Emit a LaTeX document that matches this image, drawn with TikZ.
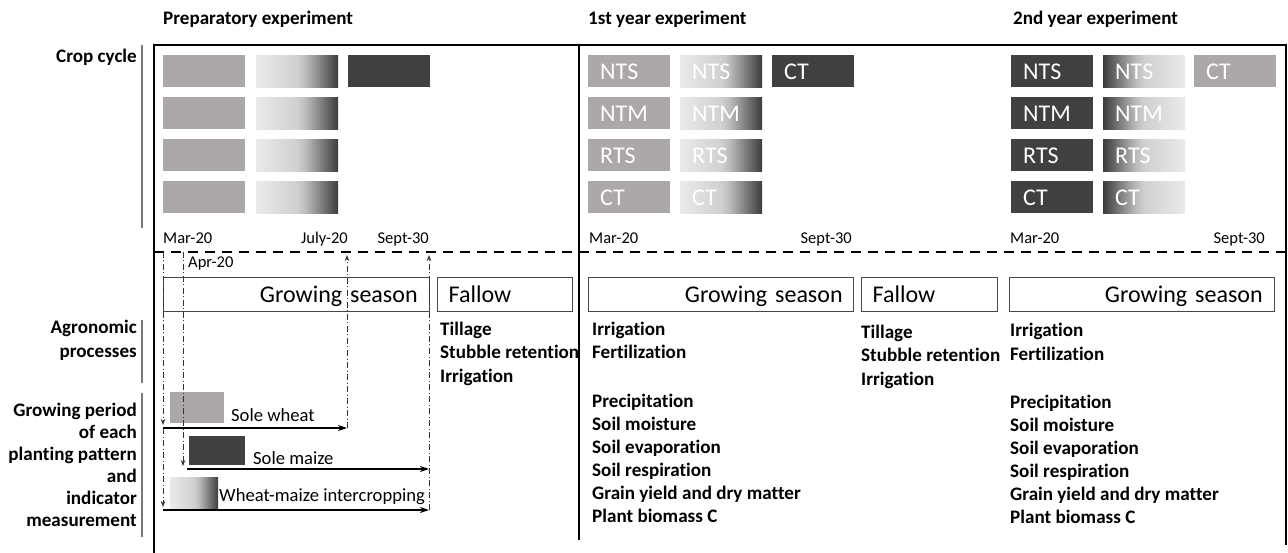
\documentclass[tikz,border=0pt]{standalone}
\usepackage{fontspec}
\setmainfont{Carlito}[Ligatures=NoCommon]
\usetikzlibrary{arrows.meta}
\definecolor{cgray}{HTML}{ABA8A7}
\definecolor{cdark}{HTML}{404040}
\definecolor{gL}{RGB}{234,234,234}
\definecolor{gMa}{RGB}{208,208,208}
\definecolor{gMb}{RGB}{188,188,188}
\definecolor{gMc}{RGB}{140,140,140}
\definecolor{gMd}{RGB}{92,92,92}
\definecolor{gD}{RGB}{60,60,60}
\definecolor{linegray}{RGB}{120,120,120}
\pgfdeclarehorizontalshading{wmshade}{100bp}{color(0bp)=(gL); color(25bp)=(gL); color(50bp)=(gMa); color(55bp)=(gMb); color(62.5bp)=(gMc); color(70bp)=(gMd); color(75bp)=(gD); color(100bp)=(gD)}
\pgfdeclarehorizontalshading{mwshade}{100bp}{color(0bp)=(gD); color(25bp)=(gD); color(30bp)=(gMd); color(37.5bp)=(gMc); color(45bp)=(gMb); color(50bp)=(gMa); color(75bp)=(gL); color(100bp)=(gL)}
\tikzset{
  lab/.style={font=\fontsize{19.1}{22}\selectfont\bfseries, inner sep=0pt},
  datelab/.style={font=\fontsize{16.5}{19}\selectfont, inner sep=0pt},
  plainlab/.style={font=\fontsize{18.6}{21}\selectfont, inner sep=0pt},
  cbox/.style={minimum height=32pt, text width=58pt, inner xsep=12pt, inner ysep=0pt, align=left,
    text=white, font=\fontsize{24}{28}\selectfont, text height=16pt, text depth=0pt, anchor=north west},
  graybox/.style={cbox, fill=cgray},
  darkbox/.style={cbox, fill=cdark},
  lgrad/.style={cbox, shading=wmshade},
  dgrad/.style={cbox, shading=mwshade},
  seasonbox/.style={draw=black!72, line width=1.3pt, minimum height=34pt, inner ysep=0pt,
    font=\fontsize{24}{28}\selectfont, text height=16pt, text depth=0pt, anchor=north west},
  minibox/.style={minimum width=54pt, minimum height=31pt, inner sep=0pt, anchor=north west},
  frame/.style={line width=2.6pt, black},
  sideline/.style={line width=1.8pt, linegray},
  ddot/.style={line width=0.9pt, black!80, dash pattern=on 6pt off 2.5pt on 1pt off 2.5pt},
  harrow/.style={line width=1.4pt, black, -{Stealth[length=9pt,width=6pt]}},
  varrow/.style={ddot, -{Stealth[length=6pt,width=4.5pt]}}
}
\begin{document}
\begin{tikzpicture}[x=1pt,y=-1pt]
\useasboundingbox[fill=white] (0,0) rectangle (1288,553);

% titles
\node[lab, anchor=base west] (t0) at (163,25) {Preparatory experiment};
\node[lab, anchor=base west] (t1) at (588,25) {1st year experiment};
\node[lab, anchor=base west] (t2) at (1013,25) {2nd year experiment};

% frame
\draw[frame] (153,45) -- (1287,45);
\draw[frame] (154,45) -- (154,553);
\draw[frame] (579,45) -- (579,540);
\draw[line width=2pt] (1286,45) -- (1286,545);
\draw[line width=2.4pt, dash pattern=on 10pt off 7pt] (154,252) -- (1288,252);

% left labels
\node[lab, anchor=base east] (lc) at (137,63) {Crop cycle};
\draw[sideline] (142,45) -- (142,228);
\node[lab, anchor=base east] (la1) at (137,334) {Agronomic};
\node[lab, anchor=base east] (la2) at (137,357) {processes};
\draw[sideline] (142,320) -- (142,383);
\foreach \t [count=\i] in {Growing period, of each, planting pattern, and, indicator, measurement}
  \node[lab, anchor=base east] (lg\i) at (137,{416+22*(\i-1)}) {\t};
\draw[sideline] (142,393) -- (142,537);

% crop cycle: preparatory
\foreach \r [count=\i] in {55,97,139,181}{
  \node[graybox] (p1-\i) at (163,\r) {};
  \node[lgrad] (p2-\i) at (256,\r) {};
}
\node[darkbox] (p3-1) at (348,55) {};

% crop cycle: 1st year
\foreach \r/\t [count=\i] in {55/NTS,97/NTM,139/RTS,181/CT}{
  \node[graybox] (a1-\i) at (588,\r) {\t};
  \node[lgrad] (a2-\i) at (680,\r) {\t};
}
\node[darkbox] (a3-1) at (772,55) {CT};

% crop cycle: 2nd year
\foreach \r/\t [count=\i] in {55/NTS,97/NTM,139/RTS,181/CT}{
  \node[darkbox] (b1-\i) at (1011,\r) {\t};
  \node[dgrad] (b2-\i) at (1103,\r) {\t};
}
\node[graybox] (b3-1) at (1194,55) {CT};

% dates
\node[datelab, anchor=base west] (d0a) at (163,244) {Mar-20};
\node[datelab, anchor=base east] (d0b) at (348,244) {July-20};
\node[datelab, anchor=base east] (d0c) at (429,244) {Sept-30};
\node[datelab, anchor=base west] (d0d) at (188,268) {Apr-20};
\node[datelab, anchor=base west] (d1a) at (589,244) {Mar-20};
\node[datelab, anchor=base east] (d1b) at (852,244) {Sept-30};
\node[datelab, anchor=base west] (d2a) at (1010,244) {Mar-20};
\node[datelab, anchor=base east] (d2b) at (1265,244) {Sept-30};

% season boxes
\node[seasonbox, text width=242pt, inner xsep=12pt, align=right] (gs0) at (163,277) {Growing season};
\node[seasonbox, text width=113pt, inner xsep=11pt, align=left] (fw0) at (437,277) {Fallow};
\node[seasonbox, text width=243pt, inner xsep=11pt, align=right] (gs1) at (588,277) {Growing season};
\node[seasonbox, text width=114pt, inner xsep=11pt, align=left] (fw1) at (861,277) {Fallow};
\node[seasonbox, text width=241pt, inner xsep=12pt, align=right] (gs2) at (1009,277) {Growing season};

% agronomic texts
\foreach \t [count=\i] in {Tillage, Stubble retention, Irrigation}
  \node[lab, anchor=base west] (pf\i) at (440,{336+23*(\i-1)}) {\t};
\foreach \t [count=\i] in {Tillage, Stubble retention, Irrigation}
  \node[lab, anchor=base west] (ff\i) at (861,{339+23*(\i-1)}) {\t};
\foreach \t [count=\i] in {Irrigation, Fertilization}{
  \node[lab, anchor=base west] (ya\i) at (592,{336+23*(\i-1)}) {\t};
  \node[lab, anchor=base west] (yb\i) at (1010,{337+23*(\i-1)}) {\t};
}
\foreach \t [count=\i] in {Precipitation, Soil moisture, Soil evaporation, Soil respiration, Grain yield and dry matter, Plant biomass C}{
  \node[lab, anchor=base west] (ma\i) at (592,{407+23*(\i-1)}) {\t};
  \node[lab, anchor=base west] (mb\i) at (1010,{408+23*(\i-1)}) {\t};
}

% growing period
\node[minibox, fill=cgray] (swb) at (170,392) {};
\node[minibox, fill=cdark, minimum width=56pt, minimum height=29pt] (smb) at (189,436) {};
\node[minibox, shading=wmshade, minimum width=48pt] (imb) at (170,477) {};
\node[plainlab, anchor=base west] (swl) at (231,421.5) {Sole wheat};
\node[plainlab, anchor=base west] (sml) at (253,464) {Sole maize};
\node[plainlab, anchor=base west] (iml) at (219,501) {Wheat-maize intercropping};

\coordinate (marTop) at (163,252);
\coordinate (aprTop) at (183,252);
\coordinate (julTop) at (347,255);
\coordinate (sepTop) at (429,255);
\coordinate (wheatL) at (163,428);
\coordinate (wheatR) at (347,428);
\coordinate (maizeL) at (187,469);
\coordinate (maizeR) at (429,469);
\coordinate (interL) at (163,510);
\coordinate (interR) at (429,510);
\coordinate (aprEnd) at (183,466);
\coordinate (marEndA) at (163,425);
\coordinate (marEndB) at (163,507);

\draw[varrow] (marTop) -- (marEndA);
\draw[varrow] (wheatL) -- (marEndB);
\draw[varrow] (aprTop) -- (aprEnd);
\draw[varrow] (wheatR) -- (julTop);
\draw[varrow] (interR) -- (sepTop);

\draw[harrow] (wheatL) -- (wheatR);
\draw[harrow] (maizeL) -- (maizeR);
\draw[harrow] (interL) -- (interR);
\end{tikzpicture}
\end{document}
